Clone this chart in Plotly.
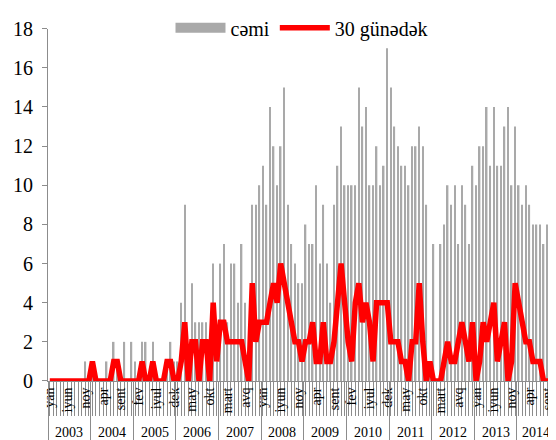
import plotly.graph_objects as go

years = ["2003", "2004", "2005", "2006", "2007", "2008", "2009", "2010", "2011", "2012", "2013", "2014"]
month_names = ["yan", "fev", "mart", "apr", "may", "iyun", "iyul", "avq", "sent", "okt", "noy", "dek"]

cemi = [
    0, 0, 0, 0, 0, 0, 0, 0, 0, 0, 1, 0,
    1, 0, 0, 0, 1, 0, 2, 1, 0, 2, 0, 2,
    1, 0, 2, 2, 0, 2, 0, 0, 0, 1, 2, 1,
    1, 4, 9, 0, 5, 3, 3, 3, 3, 0, 6, 1,
    6, 7, 3, 6, 6, 4, 7, 4, 0, 9, 9, 10,
    11, 9, 14, 12, 10, 12, 15, 9, 7, 6, 5, 5,
    8, 7, 7, 10, 6, 9, 6, 4, 9, 11, 13, 10,
    10, 10, 10, 15, 13, 14, 10, 10, 12, 10, 11, 17,
    15, 13, 12, 11, 11, 10, 12, 12, 13, 12, 9, 1,
    7, 0, 7, 8, 10, 9, 10, 7, 10, 9, 7, 11,
    10, 12, 12, 14, 11, 14, 11, 11, 13, 14, 10, 13,
    10, 9, 10, 9, 8, 8, 8, 7, 8, 11, 9,
]

gun30 = [
    0, 0, 0, 0, 0, 0, 0, 0, 0, 0, 0, 0,
    1, 0, 0, 0, 0, 0, 1, 1, 0, 0, 0, 0,
    0, 0, 1, 0, 0, 1, 0, 0, 0, 1, 1, 0,
    0, 1, 3, 0, 2, 2, 0, 2, 2, 0, 4, 1,
    3, 3, 2, 2, 2, 2, 2, 1, 0, 5, 2, 3,
    3, 3, 4, 5, 4, 6, 5, 4, 3, 2, 2, 1,
    2, 2, 3, 1, 1, 3, 1, 1, 2, 4, 6, 4,
    2, 1, 4, 5, 3, 4, 3, 1, 4, 4, 4, 4,
    2, 2, 2, 1, 1, 0, 2, 2, 5, 2, 0, 1,
    0, 0, 0, 1, 2, 1, 1, 2, 3, 2, 1, 3,
    0, 1, 3, 2, 3, 4, 1, 2, 3, 0, 1, 5,
    4, 3, 2, 2, 1, 1, 1, 0, 0, 0, 1,
]

n = len(cemi)
idx = list(range(n))
month_labels = [month_names[i % 12] for i in idx]
tick_idx = idx[::5]
tick_txt = [month_labels[i] for i in tick_idx]

year_bounds = [12 * k - 0.5 for k in range(len(years))]
year_centers = [(12 * k - 0.5 + min(12 * k + 11.5, n - 0.5)) / 2 for k in range(len(years))]

FONT = "Liberation Serif"
GRAY = "#A9A9A9"
AX = "#8C8C8C"

# the page body adds an 8px offset, so the figure is 8px smaller than the window
W = 548
H = 432
B = 59
TOP = 11
plot_h = H - B
dom_top = 1 - TOP / plot_h

fig = go.Figure()
fig.add_trace(go.Bar(x=idx, y=cemi, marker=dict(color=GRAY, line=dict(width=0)),
                     width=0.42, showlegend=False, name="cəmi"))
fig.add_trace(go.Scatter(x=[None], y=[None], mode="lines", name="cəmi",
                         line=dict(color=GRAY, width=10)))
fig.add_trace(go.Scatter(x=idx, y=gun30, mode="lines", name="30 günədək",
                         line=dict(color="#FF0000", width=5.5)))
# invisible helper trace for the year-separator axis
fig.add_trace(go.Scatter(x=year_bounds, y=[0] * len(year_bounds), xaxis="x2",
                         mode="markers", marker=dict(opacity=0), showlegend=False,
                         hoverinfo="skip"))

for yr, c in zip(years, year_centers):
    fig.add_annotation(x=c, y=0, xref="x", yref="paper", text=yr, showarrow=False,
                       yanchor="middle", yshift=-51,
                       font=dict(family=FONT, size=14, color="black"))

fig.update_layout(
    width=W, height=H,
    margin=dict(l=40, r=0, t=0, b=B),
    paper_bgcolor="white", plot_bgcolor="white",
    font=dict(family=FONT, color="black"),
    legend=dict(orientation="h", x=0.5, xanchor="center", y=1 - 10 / plot_h, yanchor="middle",
                font=dict(family=FONT, size=20), bgcolor="rgba(0,0,0,0)",
                itemwidth=50, traceorder="normal"),
    xaxis=dict(range=[-0.5, n - 0.5], tickmode="array", tickvals=tick_idx, ticktext=tick_txt,
               tickangle=-90, ticks="", tickfont=dict(family=FONT, size=14),
               showgrid=False, zeroline=False, showline=True, linecolor=AX, linewidth=1,
               automargin=False,
               minor=dict(ticks="outside", tick0=0, dtick=1, ticklen=34, tickcolor=AX, tickwidth=1,
                          showgrid=False)),
    xaxis2=dict(range=[-0.5, n - 0.5], overlaying="x", anchor="y", side="bottom",
                tickmode="array", tickvals=year_bounds, ticks="outside", ticklen=59,
                tickcolor=AX, tickwidth=1, showticklabels=False, showgrid=False,
                zeroline=False, showline=False, automargin=False),
    yaxis=dict(range=[0, 18], dtick=2, ticks="outside", ticklen=5, tickcolor=AX,
               domain=[0, dom_top], automargin=False,
               showline=True, linecolor=AX, linewidth=1, showgrid=False, zeroline=False,
               ticklabelstandoff=5,
               tickfont=dict(family=FONT, size=20)),
)

fig.write_html("out.html")
